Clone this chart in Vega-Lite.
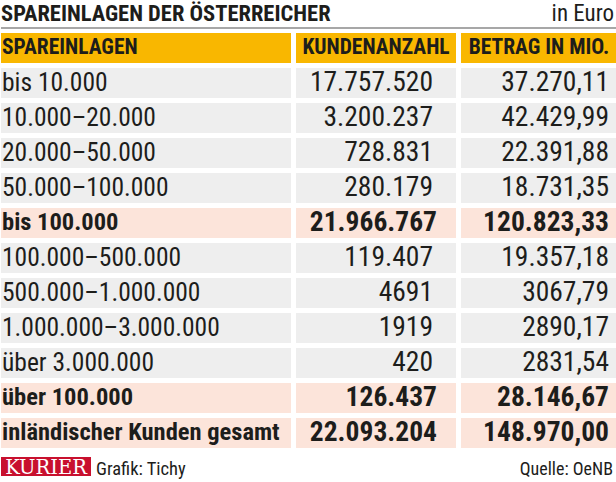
{
  "$schema": "https://vega.github.io/schema/vega-lite/v6.json",
  "padding": 0,
  "background": "white",
  "config": {"view": {"stroke": null}},
  "datasets": {
    "rows": [
      {"label": "SPAREINLAGEN", "kunden": "KUNDENANZAHL", "betrag": "BETRAG IN MIO.", "kind": "header"},
      {"label": "bis 10.000", "kunden": "17.757.520", "betrag": "37.270,11", "kind": "normal"},
      {"label": "10.000–20.000", "kunden": "3.200.237", "betrag": "42.429,99", "kind": "normal"},
      {"label": "20.000–50.000", "kunden": "728.831", "betrag": "22.391,88", "kind": "normal"},
      {"label": "50.000–100.000", "kunden": "280.179", "betrag": "18.731,35", "kind": "normal"},
      {"label": "bis 100.000", "kunden": "21.966.767", "betrag": "120.823,33", "kind": "sum"},
      {"label": "100.000–500.000", "kunden": "119.407", "betrag": "19.357,18", "kind": "normal"},
      {"label": "500.000–1.000.000", "kunden": "4691", "betrag": "3067,79", "kind": "normal"},
      {"label": "1.000.000–3.000.000", "kunden": "1919", "betrag": "2890,17", "kind": "normal"},
      {"label": "über 3.000.000", "kunden": "420", "betrag": "2831,54", "kind": "normal"},
      {"label": "über 100.000", "kunden": "126.437", "betrag": "28.146,67", "kind": "sum"},
      {"label": "inländischer Kunden gesamt", "kunden": "22.093.204", "betrag": "148.970,00", "kind": "sum"}
    ],
    "meta": [
      {"title": "SPAREINLAGEN DER ÖSTERREICHER", "unit": "in Euro", "logo": "KURIER", "credit": "Grafik: Tichy", "source": "Quelle: OeNB"}
    ]
  },
  "spacing": 3,
  "vconcat": [
    {
      "width": 616,
      "height": 30,
      "data": {"name": "meta"},
      "layer": [
        {
          "mark": {"type": "text", "align": "left", "baseline": "alphabetic", "font": "Roboto Condensed, DejaVu Sans Condensed, sans-serif", "fontWeight": "bold", "fontSize": 22.5, "color": "#1d1d1b"},
          "encoding": {"x": {"value": 0}, "y": {"value": 21}, "text": {"field": "title"}}
        },
        {
          "mark": {"type": "text", "align": "right", "baseline": "alphabetic", "font": "Roboto Condensed, DejaVu Sans Condensed, sans-serif", "fontSize": 23, "color": "#1d1d1b"},
          "encoding": {"x": {"value": 613}, "y": {"value": 21}, "text": {"field": "unit"}}
        },
        {
          "mark": {"type": "rule", "color": "#8a8a8a", "strokeWidth": 1.5},
          "encoding": {"x": {"value": 0}, "x2": {"value": 616}, "y": {"value": 28}}
        }
      ]
    },
    {
      "spacing": 5,
      "bounds": "flush",
      "data": {"name": "rows"},
      "hconcat": [
        {
          "width": 290,
          "height": 415,
          "encoding": {
            "y": {"field": "label", "type": "nominal", "sort": null, "scale": {"paddingInner": 0.143, "paddingOuter": 0}, "axis": null}
          },
          "layer": [
            {
              "mark": {"type": "rect"},
              "encoding": {
                "x": {"value": 0}, "x2": {"value": 290},
                "fill": {"field": "kind", "type": "nominal", "scale": {"domain": ["header", "normal", "sum"], "range": ["#f9b700", "#eeeeee", "#fce4da"]}, "legend": null}
              }
            },
            {
              "mark": {"type": "text", "align": "left", "baseline": "middle", "font": "Roboto Condensed, DejaVu Sans Condensed, sans-serif", "color": "#1d1d1b",
                "fontWeight": {"expr": "datum.kind === 'normal' ? 400 : 700"},
                "fontSize": {"expr": "datum.kind === 'header' ? 21.5 : datum.kind === 'sum' ? 24.5 : 25.5"}},
              "encoding": {"x": {"value": 1}, "text": {"field": "label"}}
            }
          ]
        },
        {
          "width": 160,
          "height": 415,
          "encoding": {
            "y": {"field": "label", "type": "nominal", "sort": null, "scale": {"paddingInner": 0.143, "paddingOuter": 0}, "axis": null}
          },
          "layer": [
            {
              "mark": {"type": "rect"},
              "encoding": {
                "x": {"value": 0}, "x2": {"value": 160},
                "fill": {"field": "kind", "type": "nominal", "scale": {"domain": ["header", "normal", "sum"], "range": ["#f9b700", "#eeeeee", "#fce4da"]}, "legend": null}
              }
            },
            {
              "mark": {"type": "text", "baseline": "middle", "font": "Roboto Condensed, DejaVu Sans Condensed, sans-serif", "color": "#1d1d1b",
                "align": {"expr": "datum.kind === 'header' ? 'center' : 'right'"},
                "x": {"expr": "datum.kind === 'header' ? 80 : datum.kind === 'sum' ? 141 : 137"},
                "fontWeight": {"expr": "datum.kind === 'normal' ? 400 : 700"},
                "fontSize": {"expr": "datum.kind === 'header' ? 21.5 : 27.5"}},
              "encoding": {"text": {"field": "kunden"}}
            }
          ]
        },
        {
          "width": 156,
          "height": 415,
          "encoding": {
            "y": {"field": "label", "type": "nominal", "sort": null, "scale": {"paddingInner": 0.143, "paddingOuter": 0}, "axis": null}
          },
          "layer": [
            {
              "mark": {"type": "rect"},
              "encoding": {
                "x": {"value": 0}, "x2": {"value": 156},
                "fill": {"field": "kind", "type": "nominal", "scale": {"domain": ["header", "normal", "sum"], "range": ["#f9b700", "#eeeeee", "#fce4da"]}, "legend": null}
              }
            },
            {
              "mark": {"type": "text", "baseline": "middle", "font": "Roboto Condensed, DejaVu Sans Condensed, sans-serif", "color": "#1d1d1b",
                "align": {"expr": "datum.kind === 'header' ? 'center' : 'right'"},
                "x": {"expr": "datum.kind === 'header' ? 78 : 148"},
                "fontWeight": {"expr": "datum.kind === 'normal' ? 400 : 700"},
                "fontSize": {"expr": "datum.kind === 'header' ? 21.5 : 27.5"}},
              "encoding": {"text": {"field": "betrag"}}
            }
          ]
        }
      ]
    },
    {
      "width": 616,
      "height": 31,
      "data": {"name": "meta"},
      "layer": [
        {
          "mark": {"type": "rect", "color": "#c8102e"},
          "encoding": {"x": {"value": 0}, "x2": {"value": 90}, "y": {"value": 6}, "y2": {"value": 25}}
        },
        {
          "mark": {"type": "text", "align": "center", "baseline": "alphabetic", "font": "DejaVu Serif", "fontSize": 19.5, "color": "white"},
          "encoding": {"x": {"value": 45}, "y": {"value": 23}, "text": {"field": "logo"}}
        },
        {
          "mark": {"type": "text", "align": "left", "baseline": "alphabetic", "font": "Roboto Condensed, DejaVu Sans Condensed, sans-serif", "fontSize": 18.5, "color": "#1d1d1b"},
          "encoding": {"x": {"value": 95}, "y": {"value": 24}, "text": {"field": "credit"}}
        },
        {
          "mark": {"type": "text", "align": "right", "baseline": "alphabetic", "font": "Roboto Condensed, DejaVu Sans Condensed, sans-serif", "fontSize": 18, "color": "#1d1d1b"},
          "encoding": {"x": {"value": 612}, "y": {"value": 24}, "text": {"field": "source"}}
        }
      ]
    }
  ]
}
